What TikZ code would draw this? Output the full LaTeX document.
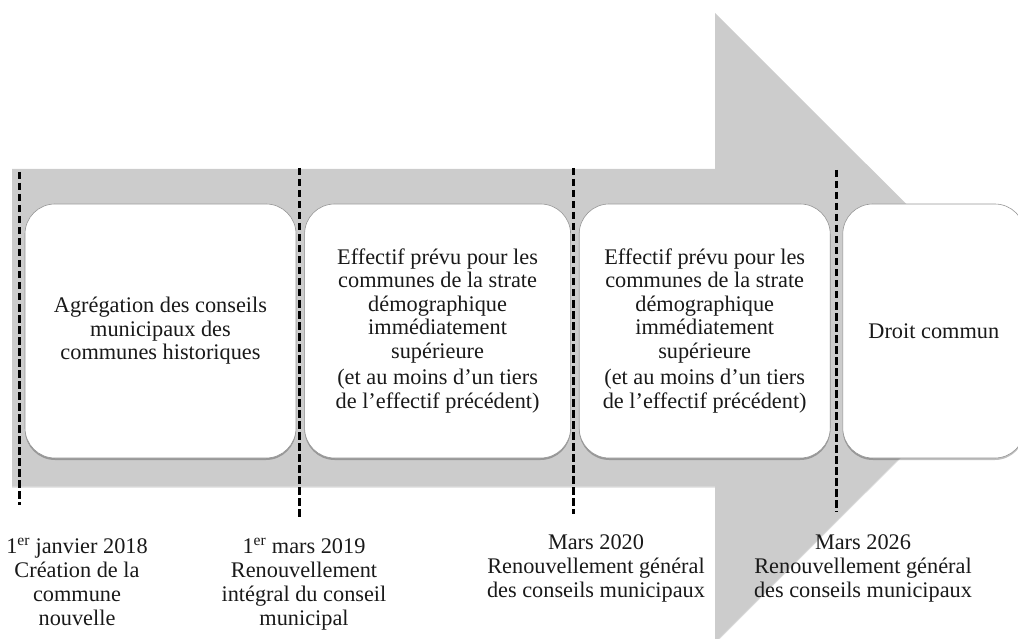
\documentclass[tikz,border=0pt]{standalone}
\usepackage{fontspec}
\setmainfont{Liberation Serif}
\usetikzlibrary{positioning,shadows}
\definecolor{arrowgrey}{RGB}{204,204,204}
\definecolor{boxedge}{RGB}{150,150,150}
\newcommand{\stagefont}{\fontsize{22.3}{23.5}\selectfont}
\newcommand{\datefont}{\fontsize{22.3}{24.3}\selectfont}

\begin{document}
\begin{tikzpicture}[x=1pt, y=-1pt, node distance=8pt,
  stage/.style={draw=boxedge, line width=0.6pt, fill=white, rounded corners=30pt, minimum height=254pt, align=center, inner sep=2pt, font=\stagefont, text=black!90, drop shadow={shadow xshift=0pt, shadow yshift=-2pt, fill=black, opacity=0.25}},
  datelabel/.style={align=center, anchor=north, inner sep=0pt, font=\datefont, text=black!90},
  cut/.style={line width=3pt, dash pattern=on 7.5pt off 3.5pt}]
\useasboundingbox (0,0) rectangle (1018,639);
\clip (0,0) rectangle (1018,639);
% big grey arrow
\fill[arrowgrey, drop shadow={shadow xshift=0pt, shadow yshift=-1.5pt, fill=black, opacity=0.15}] (12,169) -- (715,169) -- (715,13) -- (1030,327.5) -- (715,642) -- (715,486) -- (12,486) -- cycle;
% stages
\node[stage, minimum width=271pt] (agreg) at (160.5,331) {Agrégation des conseils\\ municipaux des\\ communes historiques};
\node[stage, minimum width=266pt, right=of agreg] (strate1) {Effectif prévu pour les\\ communes de la strate\\ démographique\\ immédiatement\\ supérieure\\[3pt] (et au moins d’un tiers\\ de l’effectif précédent)};
\node[stage, minimum width=251pt, right=of strate1] (strate2) {Effectif prévu pour les\\ communes de la strate\\ démographique\\ immédiatement\\ supérieure\\[3pt] (et au moins d’un tiers\\ de l’effectif précédent)};
\node[stage, minimum width=182pt, right=12pt of strate2] (droit) {Droit commun};
% dates
\foreach \x/\ya/\yb in {19/172/505, 299/168/520, 573/168/514, 836/170/512}
  \draw[cut] (\x,\ya) -- (\x,\yb);
\node[datelabel] (d2018) at (77,538) {1\textsuperscript{er} janvier 2018\\ Création de la\\ commune\\ nouvelle};
\node[datelabel] (d2019) at (304,538) {1\textsuperscript{er} mars 2019\\ Renouvellement\\ intégral du conseil\\ municipal};
\node[datelabel] (d2020) at (596,534) {Mars 2020\\ Renouvellement général\\ des conseils municipaux};
\node[datelabel] (d2026) at (863,534) {Mars 2026\\ Renouvellement général\\ des conseils municipaux};
\end{tikzpicture}
\end{document}
